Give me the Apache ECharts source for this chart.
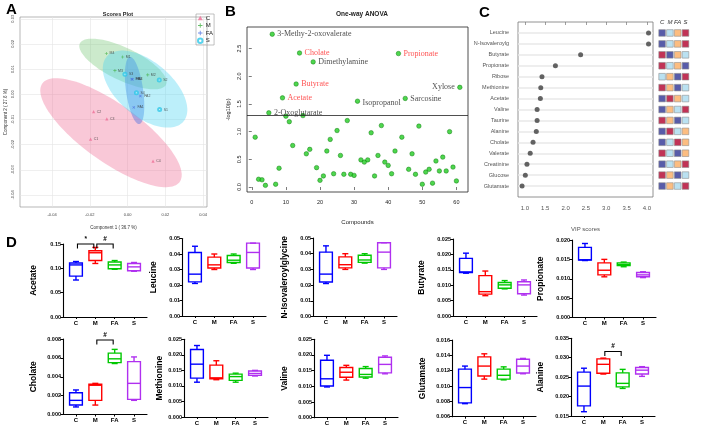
<!DOCTYPE html>
<html><head><meta charset="utf-8">
<script src="https://cdn.jsdelivr.net/npm/echarts@6/dist/echarts.min.js"></script>
<style>html,body{margin:0;padding:0;background:#fff}#c{width:708px;height:428px}</style>
</head><body><div id="c"></div>
<script>
// ---------- Panel A: PLS-DA scores ----------
const scoreGroups = ['C', 'M', 'FA', 'S'];
const scoresC = [[-0.0196, -0.0178, 'C1'], [-0.0180, -0.0069, 'C2'], [-0.0110, -0.0098, 'C3'], [0.0135, -0.0266, 'C4']];
const scoresM = [[-0.0112, 0.0162, 'M4'], [-0.0026, 0.0148, 'M1'], [-0.0067, 0.0094, 'M3'], [0.0107, 0.0077, 'M2']];
const scoresFA = [[0.0022, 0.0060, 'FA4'], [0.0026, 0.0059, 'FA3'], [0.0068, -0.0007, 'FA2'], [0.0033, -0.0052, 'FA1']];
const scoresS = [[-0.0014, 0.0080, 'S3'], [0.0168, 0.0057, 'S2'], [0.0047, 0.0006, 'S4'], [0.0170, -0.0061, 'S1']];
const scoreXTicks = [-0.04, -0.02, 0, 0.02, 0.04];
const scoreYTicks = [-0.04, -0.03, -0.02, -0.01, 0, 0.01, 0.02, 0.03];

// ---------- Panel B: one-way ANOVA ----------
const anovaLogP = [0.90, 0.14, 0.13, 0.03, 1.34, 2.76, 0.05, 0.34, 1.61, 1.28,
  1.18, 0.75, 1.86, 2.42, 1.29, 0.60, 0.68, 2.26, 0.35, 0.12,
  0.20, 0.65, 0.86, 0.24, 1.02, 0.57, 0.23, 1.20, 0.23, 0.21,
  1.55, 0.49, 0.45, 0.49, 0.98, 0.20, 0.57, 1.11, 0.45, 0.39,
  0.24, 0.65, 2.41, 0.90, 1.60, 0.32, 0.60, 0.23, 1.10, 0.05,
  0.27, 0.32, 0.07, 0.47, 0.29, 0.54, 0.29, 1.00, 0.36, 0.11, 1.80];
const anovaLabelIdx = [6, 14, 43, 18, 13, 9, 61, 31, 45, 5];
const anovaLabelNames = ['3-Methy-2-oxovalerate', 'Cholate', 'Propionate', 'Dimethylamine', 'Butyrate', 'Acetate', 'Xylose', 'Isopropanol', 'Sarcosine', '2-Oxoglutarate'];
const anovaLabelRed = [false, true, true, false, true, true, false, false, false, false];
const anovaThreshold = 1.30;
const anovaXTicks = [0, 10, 20, 30, 40, 50, 60];
const anovaYTicks = [0, 0.5, 1.0, 1.5, 2.0, 2.5];

// ---------- Panel C: VIP scores ----------
const vipNames = ['Leucine', 'N-Isovaleroylg', 'Butyrate', 'Propionate', 'Ribose', 'Methionine', 'Acetate', 'Valine', 'Taurine', 'Alanine', 'Cholate', 'Valerate', 'Creatinine', 'Glucose', 'Glutamate'];
const vipScores = [4.04, 4.04, 2.37, 1.75, 1.42, 1.39, 1.38, 1.30, 1.30, 1.28, 1.20, 1.13, 1.05, 1.01, 0.93];
const vipXTicks = [1.0, 1.5, 2.0, 2.5, 3.0, 3.5, 4.0];
const heatCols = ['C', 'M', 'FA', 'S'];
const heatRanks = [[1, 2, 3, 4], [1, 2, 3, 4], [4, 1, 3, 2], [4, 2, 3, 1], [2, 3, 1, 4], [4, 3, 1, 2], [1, 4, 3, 2], [1, 3, 2, 4], [4, 3, 1, 2], [1, 4, 2, 3], [1, 2, 4, 3], [4, 2, 1, 3], [1, 2, 3, 4], [4, 3, 1, 2], [1, 3, 2, 4]];

// ---------- Panel D: box plots [min, Q1, median, Q3, max] for C, M, FA, S ----------
const boxGroups = ['C', 'M', 'FA', 'S'];
const boxAcetate = [[0.076, 0.084, 0.107, 0.111, 0.114], [0.110, 0.116, 0.132, 0.136, 0.143], [0.098, 0.099, 0.107, 0.113, 0.116], [0.094, 0.095, 0.103, 0.110, 0.112]];
const boxLeucine = [[0.021, 0.022, 0.027, 0.041, 0.045], [0.030, 0.031, 0.033, 0.038, 0.040], [0.034, 0.0345, 0.036, 0.039, 0.040], [0.030, 0.031, 0.041, 0.047, 0.047]];
const boxIsovaleroylglycine = [[0.021, 0.022, 0.027, 0.041, 0.045], [0.030, 0.031, 0.033, 0.038, 0.040], [0.034, 0.0345, 0.036, 0.039, 0.040], [0.030, 0.031, 0.041, 0.047, 0.047]];
const boxButyrate = [[0.0139, 0.0141, 0.0143, 0.0187, 0.0204], [0.0066, 0.0071, 0.0079, 0.0131, 0.0146], [0.0088, 0.0090, 0.0101, 0.0109, 0.0115], [0.0068, 0.0072, 0.0101, 0.0111, 0.0117]];
const boxPropionate = [[0.0147, 0.0148, 0.0149, 0.0181, 0.0191], [0.0105, 0.0110, 0.0122, 0.0141, 0.0150], [0.0131, 0.0134, 0.0137, 0.0141, 0.0143], [0.0103, 0.0105, 0.0110, 0.0116, 0.0118]];
const boxCholate = [[0.0008, 0.0010, 0.0015, 0.0023, 0.0026], [0.0010, 0.0015, 0.0031, 0.0032, 0.0033], [0.0054, 0.0055, 0.0059, 0.0065, 0.0069], [0.0015, 0.0016, 0.0033, 0.0056, 0.0061]];
const boxMethionine = [[0.0112, 0.0125, 0.0170, 0.0217, 0.0230], [0.0120, 0.0123, 0.0126, 0.0167, 0.0181], [0.0112, 0.0118, 0.0130, 0.0138, 0.0141], [0.0132, 0.0134, 0.0140, 0.0148, 0.0150]];
const boxValine = [[0.0098, 0.0101, 0.0124, 0.0183, 0.0199], [0.0120, 0.0129, 0.0145, 0.0160, 0.0167], [0.0126, 0.0130, 0.0138, 0.0157, 0.0163], [0.0140, 0.0143, 0.0170, 0.0193, 0.0197]];
const boxGlutamate = [[0.0077, 0.0078, 0.0098, 0.0122, 0.0126], [0.0109, 0.0113, 0.0126, 0.0138, 0.0142], [0.0108, 0.0109, 0.0114, 0.0122, 0.0125], [0.0116, 0.0117, 0.0126, 0.0135, 0.0136]];
const boxAlanine = [[0.0161, 0.0176, 0.0227, 0.0263, 0.0273], [0.0258, 0.0260, 0.0283, 0.0297, 0.0299], [0.0221, 0.0225, 0.0234, 0.0261, 0.0270], [0.0252, 0.0258, 0.0268, 0.0275, 0.0277]];
// significance brackets: [fromGroup, toGroup, level, mark]
const sigAcetate = [[1, 2, 0.150, '*'], [2, 3, 0.150, '#']];
const sigCholate = [[2, 3, 0.0079, '#']];
const sigAlanine = [[2, 3, 0.0316, '#']];

// ======================================================================
const chart = echarts.init(document.getElementById('c'));
const SANS = 'Liberation Sans';

function confEllipse(pts) {
  const n = pts.length;
  let mx = 0, my = 0;
  pts.forEach(p => { mx += p[0]; my += p[1]; });
  mx /= n; my /= n;
  let sxx = 0, syy = 0, sxy = 0;
  pts.forEach(p => { const dx = p[0] - mx, dy = p[1] - my; sxx += dx * dx; syy += dy * dy; sxy += dx * dy; });
  sxx /= (n - 1); syy /= (n - 1); sxy /= (n - 1);
  const tr = sxx + syy, det = sxx * syy - sxy * sxy;
  const disc = Math.sqrt(Math.max(tr * tr / 4 - det, 0));
  const l1 = tr / 2 + disc, l2 = Math.max(tr / 2 - disc, 0);
  let vx = l1 - syy, vy = sxy;
  if (Math.abs(vx) + Math.abs(vy) < 1e-15) { vx = 1; vy = 0; }
  const nv = Math.hypot(vx, vy); vx /= nv; vy /= nv;
  const chi = 5.991;
  const a = Math.sqrt(chi * l1), b = Math.sqrt(chi * l2);
  const out = [];
  for (let i = 0; i < 120; i++) {
    const t = 2 * Math.PI * i / 120;
    const ex = a * Math.cos(t), ey = b * Math.sin(t);
    out.push([mx + ex * vx - ey * vy, my + ex * vy + ey * vx]);
  }
  return out;
}

const grids = [], xAxes = [], yAxes = [], series = [], titles = [];

// ---- Panel A ----
grids.push({ left: 20, top: 17, width: 187, height: 190, show: true, borderColor: '#888', borderWidth: 0.6 });
xAxes.push({ type: 'value', gridIndex: 0, min: -0.057, max: 0.0421,
  axisLine: { show: false }, axisTick: { show: false, customValues: scoreXTicks },
  axisLabel: { customValues: scoreXTicks, fontSize: 4, color: '#444', margin: 6, formatter: v => v.toFixed(2) },
  splitLine: { show: true, lineStyle: { color: '#e4e4e4', width: 0.6 } },
  name: 'Component 1 ( 36.7 %)', nameLocation: 'middle', nameGap: 18, nameTextStyle: { fontSize: 4.5, color: '#333' } });
yAxes.push({ type: 'value', gridIndex: 0, min: -0.0448, max: 0.0307,
  axisLine: { show: false }, axisTick: { show: false, customValues: scoreYTicks },
  axisLabel: { customValues: scoreYTicks, fontSize: 4, color: '#444', rotate: 90, margin: 5, formatter: v => v.toFixed(2) },
  splitLine: { show: true, lineStyle: { color: '#e4e4e4', width: 0.6 } },
  name: 'Component 2 ( 27.6 %)', nameLocation: 'middle', nameGap: 12, nameTextStyle: { fontSize: 4.5, color: '#333' } });

const aSets = [scoresC, scoresM, scoresFA, scoresS];
const aFill = ['rgba(238,110,150,0.38)', 'rgba(120,200,120,0.38)', 'rgba(70,110,225,0.42)', 'rgba(70,210,240,0.36)'];
const aColor = ['#ee6e96', '#43b043', '#4a6fe0', '#30c8e8'];
const plusPath = 'path://M4,0H6V4H10V6H6V10H4V6H0V4H4Z';
const aSymbol = ['triangle', plusPath, plusPath, 'emptyCircle'];
const aRot = [0, 0, 45, 0];
aSets.forEach((set, gi) => {
  const ell = confEllipse(set);
  series.push({ type: 'custom', xAxisIndex: 0, yAxisIndex: 0, silent: true, z: 1,
    data: [[0, 0]],
    renderItem: (params, api) => ({
      type: 'polygon', shape: { points: ell.map(p => api.coord(p)) },
      style: { fill: aFill[gi], stroke: 'none' }
    }) });
});
aSets.forEach((set, gi) => {
  series.push({ type: 'scatter', name: scoreGroups[gi], xAxisIndex: 0, yAxisIndex: 0, z: 3,
    symbol: aSymbol[gi], symbolRotate: aRot[gi], symbolSize: gi === 3 ? 3 : 3.2,
    itemStyle: { color: aColor[gi], borderColor: aColor[gi], borderWidth: gi === 3 ? 0.8 : 0 },
    label: { show: true, position: 'right', distance: 1.5, fontSize: 3.5, color: '#333', formatter: p => p.data[2] },
    data: set });
});

// ---- Panel B ----
grids.push({ left: 247, top: 27, width: 221, height: 165, show: true, borderColor: '#222', borderWidth: 0.8 });
xAxes.push({ type: 'value', gridIndex: 1, min: -1.4, max: 63.4,
  axisLine: { show: false }, axisTick: { show: true, customValues: anovaXTicks, length: 3, lineStyle: { color: '#222', width: 0.6 } },
  axisLabel: { customValues: anovaXTicks, fontSize: 5.5, color: '#222', margin: 7 },
  splitLine: { show: false },
  name: 'Compounds', nameLocation: 'middle', nameGap: 27, nameTextStyle: { fontSize: 6, color: '#222' } });
yAxes.push({ type: 'value', gridIndex: 1, min: -0.09, max: 2.89,
  axisLine: { show: false }, axisTick: { show: true, customValues: anovaYTicks, length: 3, lineStyle: { color: '#222', width: 0.6 } },
  axisLabel: { customValues: anovaYTicks, fontSize: 5.5, color: '#222', rotate: 90, margin: 5, formatter: v => v.toFixed(1) },
  splitLine: { show: false },
  name: '-log10(p)', nameLocation: 'middle', nameGap: 16, nameTextStyle: { fontSize: 5.5, color: '#222' } });
series.push({ type: 'scatter', xAxisIndex: 1, yAxisIndex: 1, symbolSize: 4.5, z: 3,
  itemStyle: { color: '#22cc22', borderColor: '#0d7a0d', borderWidth: 0.6 },
  data: anovaLogP.map((v, i) => {
    const k = anovaLabelIdx.indexOf(i + 1);
    if (k < 0) return [i + 1, v];
    const nm = anovaLabelNames[k];
    return { value: [i + 1, v], label: { show: true, formatter: nm,
      position: nm === 'Xylose' ? 'left' : 'right', distance: 2.5,
      offset: nm === 'Isopropanol' ? [0, 1.5] : [0, 0],
      fontFamily: 'Liberation Serif', fontSize: 8, color: anovaLabelRed[k] ? '#ff2626' : '#222' } };
  }),
  markLine: { silent: true, symbol: 'none', label: { show: false },
    lineStyle: { color: '#222', width: 0.8, type: 'solid' }, data: [{ yAxis: anovaThreshold }] } });

// ---- Panel C: VIP ----
grids.push({ left: 518, top: 22, width: 135, height: 175, show: true, borderColor: '#777', borderWidth: 0.8 });
const vipRows = vipNames.map((_, i) => i + 1);
xAxes.push({ type: 'value', gridIndex: 2, min: 0.83, max: 4.15,
  axisLine: { show: false }, axisTick: { show: true, customValues: vipXTicks, length: 3, lineStyle: { color: '#777', width: 0.7 } },
  axisLabel: { customValues: vipXTicks, fontSize: 6, color: '#555', margin: 8, formatter: v => v.toFixed(1) },
  splitLine: { show: false },
  name: 'VIP scores', nameLocation: 'middle', nameGap: 29, nameTextStyle: { fontSize: 6, color: '#555' } });
yAxes.push({ type: 'value', gridIndex: 2, min: 0, max: 16, inverse: true,
  axisLine: { show: false }, axisTick: { show: false, customValues: vipRows },
  axisLabel: { customValues: vipRows, fontSize: 5.5, color: '#555', margin: 9, formatter: v => vipNames[Math.round(v) - 1] || '' },
  splitLine: { show: true, lineStyle: { color: '#e8e8e8', width: 1.6 } } });
series.push({ type: 'scatter', xAxisIndex: 2, yAxisIndex: 2, symbolSize: 5, z: 3,
  itemStyle: { color: '#3d3d3d' }, data: vipScores.map((v, i) => [v, i + 1]) });
const dummyIdx = series.length;
series.push({ type: 'scatter', xAxisIndex: 2, yAxisIndex: 2, data: [] });

// heatmap grid
grids.push({ left: 658.2, top: 27.5, width: 31.2, height: 164 });
xAxes.push({ type: 'category', gridIndex: 3, position: 'top', data: heatCols,
  axisLine: { show: false }, axisTick: { show: false },
  axisLabel: { interval: 0, fontSize: 6, color: '#333', fontStyle: 'italic', margin: 2 } });
yAxes.push({ type: 'category', gridIndex: 3, data: vipNames, inverse: true, show: false });
const heatIdx = series.length;
const heatData = [];
heatRanks.forEach((row, r) => row.forEach((v, c) => heatData.push([c, r, v])));
series.push({ type: 'scatter', xAxisIndex: 3, yAxisIndex: 3, symbol: 'rect', symbolSize: 6.6,
  itemStyle: { borderColor: '#8a8a8a', borderWidth: 0.7 }, data: heatData });

// ---- Panel D ----
const boxColors = ['#0000ff', '#ff0000', '#00c800', '#b030f0'];
const panels = [
  { name: 'Acetate', data: boxAcetate, min: 0, max: 0.15, step: 0.05, dec: 2, sig: sigAcetate },
  { name: 'Leucine', data: boxLeucine, min: 0, max: 0.05, step: 0.01, dec: 2 },
  { name: 'N-Isovaleroylglycine', data: boxIsovaleroylglycine, min: 0, max: 0.05, step: 0.01, dec: 2 },
  { name: 'Butyrate', data: boxButyrate, min: 0, max: 0.025, step: 0.005, dec: 3 },
  { name: 'Propionate', data: boxPropionate, min: 0, max: 0.020, step: 0.005, dec: 3 },
  { name: 'Cholate', data: boxCholate, min: 0, max: 0.008, step: 0.002, dec: 3, sig: sigCholate },
  { name: 'Methionine', data: boxMethionine, min: 0, max: 0.025, step: 0.005, dec: 3 },
  { name: 'Valine', data: boxValine, min: 0, max: 0.025, step: 0.005, dec: 3 },
  { name: 'Glutamate', data: boxGlutamate, min: 0.006, max: 0.016, step: 0.002, dec: 3 },
  { name: 'Alanine', data: boxAlanine, min: 0.015, max: 0.035, step: 0.005, dec: 3, sig: sigAlanine }
];
const dLayout = [
  [63, 244, 317, 25], [182, 238.5, 316, 24], [313, 238, 316.5, 24], [453, 239, 316, 27], [572, 240, 317.5, 27],
  [63, 339, 414.5, 25], [184, 339.3, 417, 17], [314, 339.3, 417.7, 25], [452, 340, 416.7, 25], [571, 338.3, 416, 26]
];
const catPos = [1, 2, 3, 4];
panels.forEach((p, k) => {
  const gi = grids.length;
  const L = dLayout[k];
  grids.push({ left: L[0], top: L[1], width: 84, height: L[2] - L[1] });
  xAxes.push({ type: 'value', gridIndex: gi, min: 0.33, max: 4.67,
    axisLine: { show: true, lineStyle: { color: '#000', width: 1.1 } },
    axisTick: { show: true, customValues: catPos, length: 2, lineStyle: { color: '#000', width: 1 } },
    axisLabel: { customValues: catPos, fontSize: 6, fontWeight: 'bold', color: '#000', margin: 3, formatter: v => boxGroups[Math.round(v) - 1] },
    splitLine: { show: false } });
  yAxes.push({ type: 'value', gridIndex: gi, min: p.min, max: p.max, interval: p.step,
    axisLine: { show: true, lineStyle: { color: '#000', width: 1.1 } },
    axisTick: { show: true, length: 2.5, lineStyle: { color: '#000', width: 1 } },
    axisLabel: { fontSize: 5.5, fontWeight: 'bold', color: '#000', margin: 2, formatter: v => v.toFixed(p.dec) },
    splitLine: { show: false },
    name: p.name, nameLocation: 'middle', nameGap: L[3], nameRotate: 90,
    nameTextStyle: { fontSize: 8.5, fontWeight: 'bold', color: '#000' } });
  series.push({ type: 'custom', xAxisIndex: gi, yAxisIndex: gi, z: 3,
    encode: { x: 0, y: [1, 2, 3, 4, 5] },
    data: p.data.map((b, i) => [i + 1].concat(b)),
    renderItem: (params, api) => {
      const x = api.value(0);
      const col = boxColors[x - 1];
      const lo = api.coord([x, api.value(1)]), q1 = api.coord([x, api.value(2)]);
      const md = api.coord([x, api.value(3)]), q3 = api.coord([x, api.value(4)]);
      const hi = api.coord([x, api.value(5)]);
      const cx = lo[0], hw = 6.4, cw = 3;
      const st = { stroke: col, lineWidth: 1.4, fill: 'none' };
      const ln = (x1, y1, x2, y2) => ({ type: 'line', shape: { x1, y1, x2, y2 }, style: st });
      return { type: 'group', children: [
        { type: 'rect', shape: { x: cx - hw, y: q3[1], width: 2 * hw, height: Math.max(q1[1] - q3[1], 0.5) }, style: st },
        ln(cx - hw, md[1], cx + hw, md[1]),
        ln(cx, q3[1], cx, hi[1]), ln(cx - cw, hi[1], cx + cw, hi[1]),
        ln(cx, q1[1], cx, lo[1]), ln(cx - cw, lo[1], cx + cw, lo[1])
      ] };
    } });
  if (p.sig) {
    series.push({ type: 'custom', xAxisIndex: gi, yAxisIndex: gi, z: 4, clip: false,
      encode: { x: [0, 1], y: 2 },
      data: p.sig,
      renderItem: (params, api) => {
        const a = api.coord([api.value(0), api.value(2)]);
        const b = api.coord([api.value(1), api.value(2)]);
        const x1 = a[0] + 1.5, x2 = b[0] - 1.5, y = a[1];
        return { type: 'group', children: [
          { type: 'polyline', shape: { points: [[x1, y + 4.5], [x1, y], [x2, y], [x2, y + 4.5]] },
            style: { stroke: '#000', lineWidth: 1.1, fill: 'none' } },
          { type: 'text', x: (x1 + x2) / 2, y: y - 1.5,
            style: { text: p.sig[params.dataIndex][3], fontSize: 6.5, fontWeight: 'bold', fill: '#000', align: 'center', verticalAlign: 'bottom', fontFamily: SANS } }
        ] };
      } });
  }
});

// ---- titles / panel letters ----
titles.push({ text: 'A', left: 1, top: -3, textStyle: { fontSize: 15, fontWeight: 'bold', color: '#000' } });
titles.push({ text: 'B', left: 220, top: -1, textStyle: { fontSize: 15, fontWeight: 'bold', color: '#000' } });
titles.push({ text: 'C', left: 474, top: 0, textStyle: { fontSize: 15, fontWeight: 'bold', color: '#000' } });
titles.push({ text: 'D', left: 1, top: 230, textStyle: { fontSize: 15, fontWeight: 'bold', color: '#000' } });
titles.push({ text: 'Scores Plot', left: 113, top: 6, textAlign: 'center', textStyle: { fontSize: 5.5, fontWeight: 'bold', color: '#222' } });
titles.push({ text: 'One-way ANOVA', left: 357, top: 6, textAlign: 'center', textStyle: { fontSize: 6.5, fontWeight: 'bold', color: '#222' } });

chart.setOption({
  animation: false,
  backgroundColor: '#fff',
  textStyle: { fontFamily: SANS },
  title: titles,
  grid: grids,
  xAxis: xAxes,
  yAxis: yAxes,
  legend: { data: scoreGroups, orient: 'vertical', left: 196, top: 14, itemWidth: 5, itemHeight: 4.5, itemGap: 1.5,
    selectedMode: false, padding: [1, 1, 1, 1], borderColor: '#999', borderWidth: 0.6,
    textStyle: { fontSize: 6, color: '#222', padding: [0, 0, 0, -2] } },
  visualMap: [
    { type: 'piecewise', show: false, seriesIndex: heatIdx, dimension: 2,
      pieces: [{ value: 1, color: '#2e3393' }, { value: 2, color: '#a9daee' }, { value: 3, color: '#fbad62' }, { value: 4, color: '#b2002c' }] },
    { type: 'continuous', seriesIndex: dummyIdx, min: 0, max: 1, calculable: false, orient: 'vertical',
      left: 698, top: 71, itemWidth: 7, itemHeight: 64, text: ['High', 'Low'], textGap: 2,
      textStyle: { fontSize: 5, color: '#444' },
      inRange: { color: ['#313695', '#4575b4', '#abd9e9', '#ffffbf', '#fdae61', '#d73027', '#a50026'] } }
  ],
  series: series
});
</script></body></html>
